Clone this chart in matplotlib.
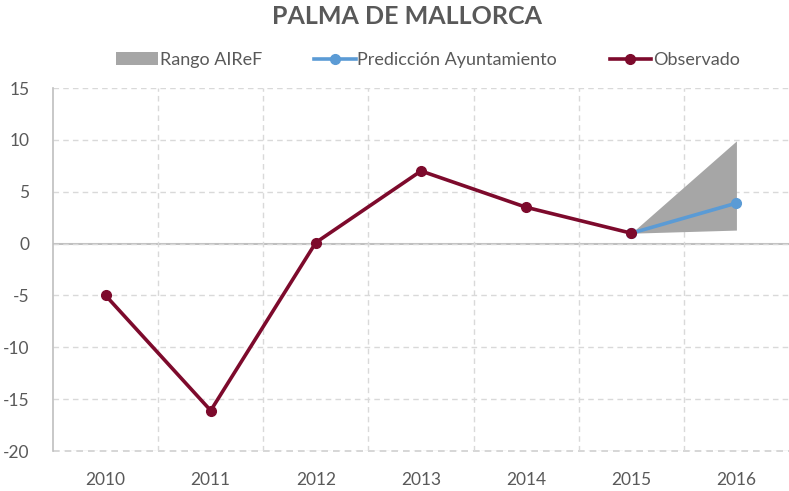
import matplotlib
matplotlib.use("Agg")
import matplotlib.pyplot as plt
import numpy as np

plt.rcParams['font.family'] = ['Lato', 'DejaVu Sans']

years = ["2010", "2011", "2012", "2013", "2014", "2015", "2016"]
observado = [-5.0, -16.1, 0.1, 7.0, 3.5, 1.0]
pred_years = ["2015", "2016"]
prediccion = [1.0, 3.9]
rango_years = ["2015", "2016"]
rango_low = [1.0, 1.3]
rango_high = [1.0, 9.9]
yticks = [15, 10, 5, 0, -5, -10, -15, -20]

RED = '#7d0a2c'
BLUE = '#5b9bd5'
GREY = '#a6a6a6'
TXT = '#595959'
GRID = '#d9d9d9'

fig = plt.figure(figsize=(7.89, 4.91), dpi=100)
ax = fig.add_axes([53/789, 1-451/491, 1-53/789, (451-88)/491])

xi = {y: i for i, y in enumerate(years)}
xo = [xi[y] for y in years[:len(observado)]]
xp = [xi[y] for y in pred_years]
xr = [xi[y] for y in rango_years]

ax.fill_between(xr, rango_low, rango_high, color=GREY, lw=0, zorder=2, label='Rango AIReF')
ax.plot(xp, prediccion, color=BLUE, lw=2.6, marker='o', ms=7, zorder=3, label='Predicción Ayuntamiento')
ax.plot(xo, observado, color=RED, lw=2.6, marker='o', ms=7, zorder=4, label='Observado')

ax.set_xlim(-0.5, len(years)-0.5)
ax.set_ylim(-20, 15)
ax.set_xticks(range(len(years)))
ax.set_xticklabels(years)
ax.set_xticks(np.arange(0.5, len(years)-0.5, 1.0), minor=True)
ax.set_yticks(yticks)
ax.set_yticklabels([str(v) for v in yticks])

ax.grid(True, which='minor', axis='x', color=GRID, ls=(0, (4, 3)), lw=1)
ax.grid(True, which='major', axis='y', color=GRID, ls=(0, (4, 3)), lw=1)
ax.grid(False, which='major', axis='x')
ax.axhline(0, color='#bfbfbf', lw=1.5, zorder=1)
ax.axhline(-20, color='#cfcfcf', lw=1.2, ls=(0, (4, 3)), zorder=1, clip_on=False)

for s in ['top', 'right', 'bottom']:
    ax.spines[s].set_visible(False)
ax.spines['left'].set_color('#bfbfbf')
ax.spines['left'].set_linewidth(1.2)

ax.tick_params(axis='both', which='both', length=0, colors=TXT, labelsize=12.5)
ax.tick_params(axis='x', pad=15)
ax.tick_params(axis='y', pad=17)

fig.text(407/789, 1-17/491, 'PALMA DE MALLORCA', ha='center', va='center',
         fontsize=18, fontweight='bold', color=TXT)

h, l = ax.get_legend_handles_labels()
leg = fig.legend(h, l, loc='center', bbox_to_anchor=(428/789, 1-60/491), ncol=3,
                 frameon=False, fontsize=13, handlelength=2.3, columnspacing=2.9,
                 handletextpad=0.1)
for t in leg.get_texts():
    t.set_color(TXT)

fig.savefig('out.png', dpi=100)
